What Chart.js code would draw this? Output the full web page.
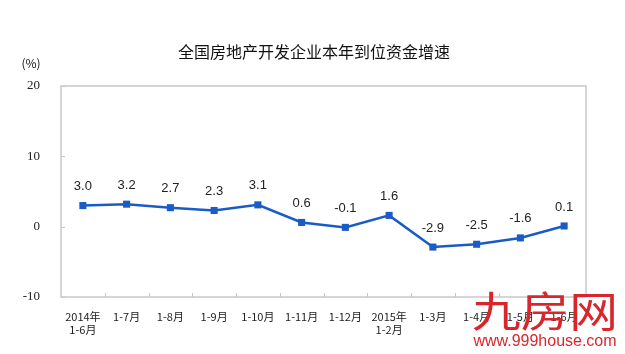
<!DOCTYPE html>
<html>
<head>
<meta charset="utf-8">
<script src="https://cdn.jsdelivr.net/npm/chart.js@4/dist/chart.umd.min.js"></script>
<style>
  html, body { margin: 0; padding: 0; background: #fff; }
  #wrap { width: 625px; height: 354px; position: relative; }
</style>
</head>
<body>
<div id="wrap"><canvas id="fundChart" width="625" height="354"></canvas></div>
<script>
// Chart data
const categories = [['2014年', '1-6月'], '1-7月', '1-8月', '1-9月', '1-10月', '1-11月', '1-12月',
    ['2015年', '1-2月'], '1-3月', '1-4月', '1-5月', '1-6月'];
const growthValues = [3.0, 3.2, 2.7, 2.3, 3.1, 0.6, -0.1, 1.6, -2.9, -2.5, -1.6, 0.1];
const yTickValues = [-10, 0, 10, 20];
const chartTitle = '全国房地产开发企业本年到位资金增速';
const unitLabel = '(%)';

const lineColor = '#1a5cc6';
const frameColor = '#c8c8c8';

// Title, frame, inner tick marks, value labels and watermark
const decorPlugin = {
    id: 'decor',
    beforeDatasetsDraw(chart) {
        const { ctx, chartArea: a, scales } = chart;
        ctx.save();
        ctx.strokeStyle = frameColor;
        ctx.lineWidth = 1.5;
        ctx.strokeRect(a.left, a.top, a.right - a.left, a.bottom - a.top);

        // x ticks between categories, pointing up
        ctx.lineWidth = 1;
        const step = (scales.x.getPixelForValue(1) - scales.x.getPixelForValue(0));
        for (let i = 1; i < categories.length; i++) {
            const x = Math.round(scales.x.getPixelForValue(i) - step / 2) + 0.5;
            ctx.beginPath();
            ctx.moveTo(x, a.bottom);
            ctx.lineTo(x, a.bottom - 4);
            ctx.stroke();
        }
        // y ticks pointing right
        yTickValues.forEach(v => {
            const y = Math.round(scales.y.getPixelForValue(v)) + 0.5;
            ctx.beginPath();
            ctx.moveTo(a.left, y);
            ctx.lineTo(a.left + 4, y);
            ctx.stroke();
        });

        // title and unit
        ctx.fillStyle = '#111';
        ctx.font = '16px "Noto Sans CJK SC"';
        ctx.textAlign = 'center';
        ctx.textBaseline = 'middle';
        ctx.fillText(chartTitle, 314, 52);
        ctx.font = '12px "Noto Sans CJK SC"';
        ctx.fillText(unitLabel, 31, 63);
        ctx.restore();
    },
    afterDatasetsDraw(chart) {
        const { ctx } = chart;
        const meta = chart.getDatasetMeta(0);
        ctx.save();
        ctx.fillStyle = '#222';
        ctx.font = '13px "Liberation Sans"';
        ctx.textAlign = 'center';
        ctx.textBaseline = 'middle';
        meta.data.forEach((pt, i) => {
            ctx.fillText(growthValues[i].toFixed(1), pt.x, pt.y - 19);
        });
        ctx.restore();
    },
    afterDraw(chart) {
        const { ctx } = chart;
        ctx.save();
        ctx.fillStyle = '#d9262c';
        ctx.textAlign = 'center';
        ctx.textBaseline = 'middle';
        ctx.translate(545, 311);
        ctx.scale(1.16, 1);
        ctx.font = '42px "Noto Sans CJK SC"';
        ctx.fillText('九房网', 0, 0);
        ctx.restore();
        ctx.save();
        ctx.fillStyle = '#d9262c';
        ctx.textAlign = 'center';
        ctx.textBaseline = 'middle';
        ctx.font = '16px "Liberation Sans"';
        ctx.fillText('www.999house.com', 545, 342);
        ctx.restore();
    }
};

const initChart = () => {
    const ctx = document.getElementById('fundChart').getContext('2d');

    new Chart(ctx, {
        type: 'line',
        data: {
            labels: categories,
            datasets: [{
                data: growthValues,
                borderColor: lineColor,
                backgroundColor: lineColor,
                borderWidth: 2.5,
                pointStyle: 'rect',
                pointRadius: 5,
                pointBorderWidth: 0,
                pointHoverRadius: 5,
                tension: 0,
                fill: false
            }]
        },
        options: {
            responsive: false,
            animation: false,
            layout: {
                padding: { top: 86, right: 39, left: 0, bottom: 0 }
            },
            plugins: {
                legend: { display: false },
                title: { display: false },
                tooltip: { enabled: false }
            },
            scales: {
                x: {
                    type: 'category',
                    offset: true,
                    grid: { display: false, drawTicks: false },
                    border: { display: false },
                    ticks: {
                        autoSkip: false,
                        maxRotation: 0,
                        minRotation: 0,
                        padding: 13,
                        color: '#222',
                        font: { family: '"Noto Sans CJK SC"', size: 11, lineHeight: 1.2 }
                    },
                    afterFit(scale) { scale.height = 57; }
                },
                y: {
                    min: -10,
                    max: 20,
                    grid: { display: false, drawTicks: false },
                    border: { display: false },
                    afterBuildTicks(scale) {
                        scale.ticks = yTickValues.map(v => ({ value: v }));
                    },
                    ticks: {
                        padding: 21,
                        color: '#222',
                        font: { family: '"Liberation Serif"', size: 13 }
                    },
                    afterFit(scale) { scale.width = 61; }
                }
            }
        },
        plugins: [decorPlugin]
    });
};

document.addEventListener('DOMContentLoaded', initChart);
</script>
</body>
</html>
